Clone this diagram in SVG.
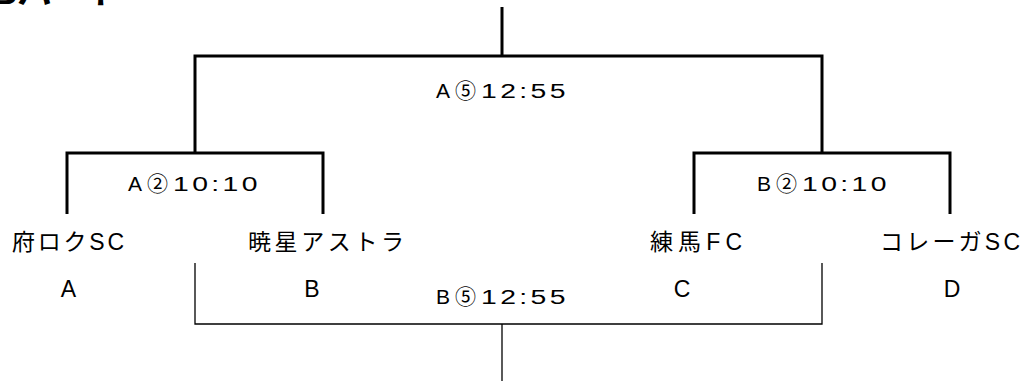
<svg xmlns="http://www.w3.org/2000/svg" width="1026" height="381" viewBox="0 0 1026 381">
<style>
text{font-family:"Liberation Sans","Noto Sans CJK JP",sans-serif;fill:#000;}
.name{font-size:23px;}
.sc{font-size:21px;letter-spacing:5px;}
.num{font-size:21px;letter-spacing:2.5px;}
.lbl{font-size:23px;text-anchor:middle;}
.thick{fill:none;stroke:#000;stroke-width:3;}
.thin{fill:none;stroke:#000;stroke-width:1.3;}
</style>
<rect width="1026" height="381" fill="#fff"/>
<text x="-8" y="4" style="font-size:35px;font-weight:bold">Bパート</text>
<g id="connectors">
<path class="thick" d="M502,7 V56"/>
<path class="thick" d="M195,153 V56 H822 V153"/>
<path class="thick" d="M67,214 V153 H323 V214"/>
<path class="thick" d="M694,214 V153 H950 V214"/>
<path class="thin" d="M195,263 V324 H822 V263"/>
<path class="thin" d="M502,324 V381"/>
</g>
<g id="score-final-a"><text class="sc" x="436" y="98">A⑤</text><text class="num" transform="translate(481,98) scale(1.35,1)">12:55</text></g>
<g id="score-a2"><text class="sc" x="128" y="191">A②</text><text class="num" transform="translate(173,191) scale(1.35,1)">10:10</text></g>
<g id="score-b2"><text class="sc" x="757" y="191">B②</text><text class="num" transform="translate(802,191) scale(1.35,1)">10:10</text></g>
<g id="score-final-b"><text class="sc" x="436" y="304">B⑤</text><text class="num" transform="translate(481,304) scale(1.35,1)">12:55</text></g>
<g id="team-a"><text class="name" x="12" y="250" textLength="112" lengthAdjust="spacing">府ロクSC</text><text class="lbl" x="68.5" y="297">A</text></g>
<g id="team-b"><text class="name" x="248" y="250" textLength="156" lengthAdjust="spacing">暁星アストラ</text><text class="lbl" x="312" y="297">B</text></g>
<g id="team-c"><text class="name" x="650" y="250" textLength="92" lengthAdjust="spacing">練馬FC</text><text class="lbl" x="682" y="297">C</text></g>
<g id="team-d"><text class="name" x="880" y="250" textLength="140" lengthAdjust="spacing">コレーガSC</text><text class="lbl" x="952" y="297">D</text></g>
</svg>
